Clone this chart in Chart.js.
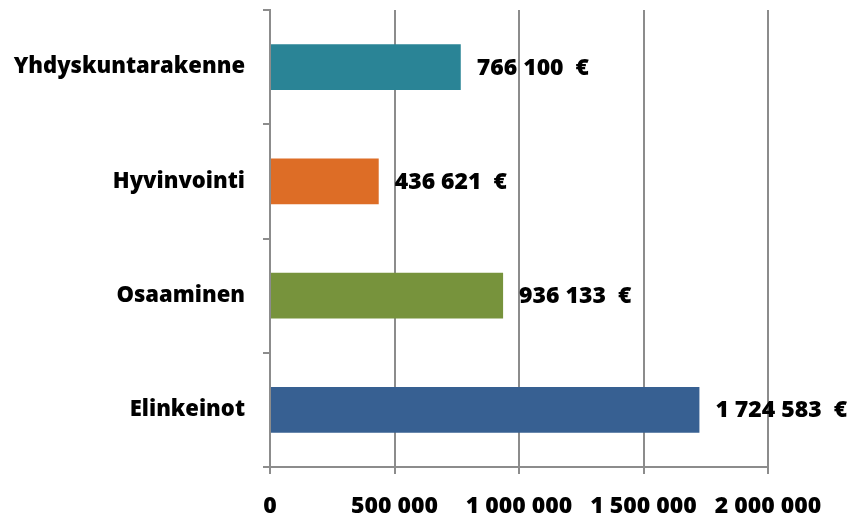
<!DOCTYPE html>
<html>
<head>
<meta charset="utf-8">
<script src="https://cdn.jsdelivr.net/npm/chart.js@4"></script>
<style>
    html, body { margin: 0; padding: 0; background: #ffffff; }
    #wrap { width: 864px; height: 519px; }
</style>
</head>
<body>
<div id="wrap"><canvas id="myChart" width="864" height="519"></canvas></div>
<script>
const categories = ["Yhdyskuntarakenne", "Hyvinvointi", "Osaaminen", "Elinkeinot"];
const values = [766100, 436621, 936133, 1724583];
const barColors = ["#2a8496", "#dd6d26", "#77933c", "#376092"];
const xTicks = [0, 500000, 1000000, 1500000, 2000000];

const fontFamily = "'Open Sans', Lato, sans-serif";
const gridColor = "#8c8c8c";

const formatNumber = (n) => String(n).replace(/\B(?=(\d{3})+(?!\d))/g, " ");

// value labels to the right of each bar
const valueLabels = {
    id: "valueLabels",
    afterDatasetsDraw(chart) {
        const ctx = chart.ctx;
        const meta = chart.getDatasetMeta(0);
        ctx.save();
        ctx.font = "800 23px " + fontFamily;
        ctx.fillStyle = "#000000";
        ctx.textAlign = "left";
        ctx.textBaseline = "middle";
        meta.data.forEach((bar, i) => {
            ctx.fillText(formatNumber(values[i]) + "  €", bar.x + 16, bar.y + 1);
        });
        ctx.restore();
    }
};

const data = {
    labels: categories,
    datasets: [{
        data: values,
        backgroundColor: barColors,
        borderWidth: 0,
        categoryPercentage: 0.8,
        barPercentage: 0.5
    }]
};

const config = {
    type: "bar",
    data: data,
    options: {
        indexAxis: "y",
        responsive: false,
        animation: false,
        layout: { padding: { top: 10, right: 96, left: 0, bottom: 0 } },
        plugins: {
            legend: { display: false },
            tooltip: { enabled: false }
        },
        scales: {
            x: {
                min: 0,
                max: 2000000,
                afterBuildTicks: (axis) => {
                    axis.ticks = xTicks.map(v => ({ value: v }));
                },
                afterFit: (axis) => {
                    axis.height = 52;
                    axis.paddingLeft = 0;
                    axis.paddingRight = 0;
                },
                grid: {
                    color: gridColor,
                    lineWidth: 2,
                    tickLength: 7
                },
                border: { color: gridColor, width: 2 },
                ticks: {
                    color: "#000000",
                    padding: 19,
                    maxRotation: 0,
                    font: { family: fontFamily, size: 23, weight: "800" },
                    callback: (v) => formatNumber(v)
                }
            },
            y: {
                afterFit: (axis) => {
                    axis.width = 270;
                    axis.paddingTop = 0;
                    axis.paddingBottom = 0;
                },
                grid: {
                    drawOnChartArea: false,
                    color: gridColor,
                    lineWidth: 2,
                    tickLength: 7,
                    offset: true
                },
                border: { color: gridColor, width: 2 },
                ticks: {
                    color: "#000000",
                    padding: 18,
                    font: { family: fontFamily, size: 22, weight: "800" }
                }
            }
        }
    },
    plugins: [valueLabels]
};

var myChart = new Chart(document.getElementById("myChart"), config);
</script>
</body>
</html>
